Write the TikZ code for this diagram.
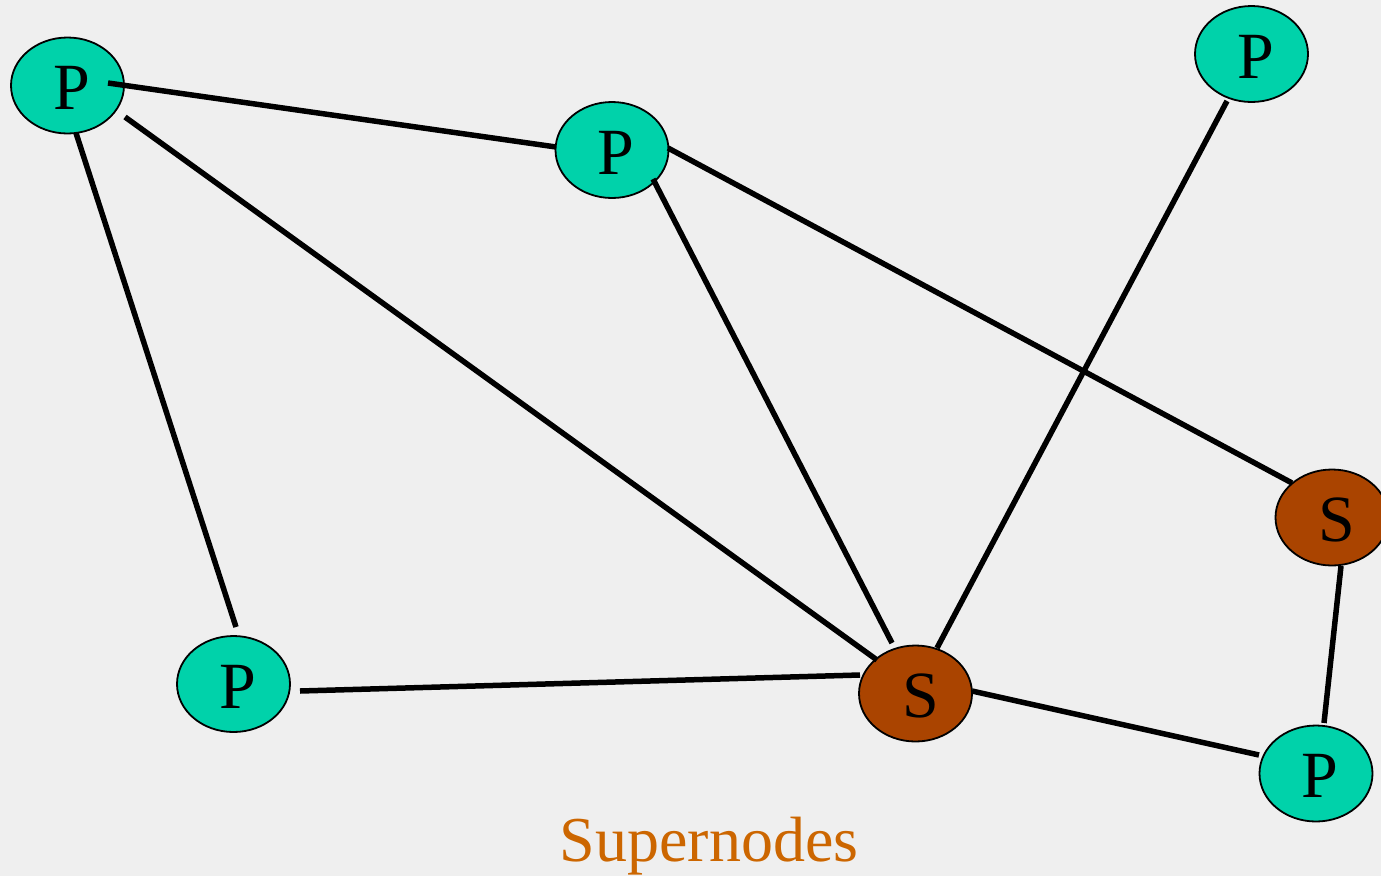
\documentclass[tikz,border=0pt]{standalone}
\usepackage{fontspec}
\setmainfont{Liberation Serif}
\usetikzlibrary{shapes.geometric}
\definecolor{bgc}{RGB}{239,239,239}
\definecolor{teal}{RGB}{0,210,170}
\definecolor{brownS}{RGB}{170,68,0}
\definecolor{orangeT}{RGB}{204,102,0}
\tikzset{
  peer/.style={ellipse, draw=black, line width=1.8pt, fill=teal, minimum width=113pt, minimum height=96pt, inner sep=0pt, text height=48pt, text depth=0pt, font=\fontsize{66}{70}\selectfont},
  superpeer/.style={peer, fill=brownS},
  link/.style={line width=5.5pt, black}
}
\begin{document}
\begin{tikzpicture}[x=1pt,y=-1pt]
\fill[bgc] (0,0) rectangle (1381,876);
\useasboundingbox (0,0) rectangle (1381,876);
\clip (0,0) rectangle (1381,876);
\node[peer] (p1) at (67.5,85.5) {\hspace*{8pt}P};
\node[peer] (p2) at (612,150) {\hspace*{8pt}P};
\node[peer] (p4) at (1251.5,54) {\hspace*{8pt}P};
\node[peer] (p3) at (233.5,684) {\hspace*{8pt}P};
\node[peer] (p5) at (1316,773.5) {\hspace*{8pt}P};
\node[superpeer] (s1) at (915.5,693.5) {\hspace*{11pt}S};
\node[superpeer] (s2) at (1332,517.5) {\hspace*{10pt}S};
\draw[link] ([shift={(40.5,-2.5)}]p1.center) -- ([shift={(-56,-3)}]p2.center);
\draw[link] ([shift={(57.5,31.5)}]p1.center) -- ([shift={(-38.5,-33.5)}]s1.center);
\draw[link] ([shift={(8.5,47.5)}]p1.center) -- ([shift={(2.5,-57)}]p3.center);
\draw[link] ([shift={(41,29)}]p2.center) -- ([shift={(-23.5,-50.5)}]s1.center);
\draw[link] ([shift={(56,-2)}]p2.center) -- ([shift={(-40,-34.5)}]s2.center);
\draw[link] ([shift={(-24.5,47)}]p4.center) -- ([shift={(21.5,-45.5)}]s1.center);
\draw[link] ([shift={(66.5,7)}]p3.center) -- ([shift={(-55.5,-18.5)}]s1.center);
\draw[link] ([shift={(56.5,-2.5)}]s1.center) -- ([shift={(-57,-18.5)}]p5.center);
\draw[link] ([shift={(9,48.5)}]s2.center) -- ([shift={(8,-50.5)}]p5.center);
\node[anchor=base, text=orangeT, font=\fontsize{64}{70}\selectfont, inner sep=0pt] (title) at (709,861) {Supernodes};
\end{tikzpicture}
\end{document}
